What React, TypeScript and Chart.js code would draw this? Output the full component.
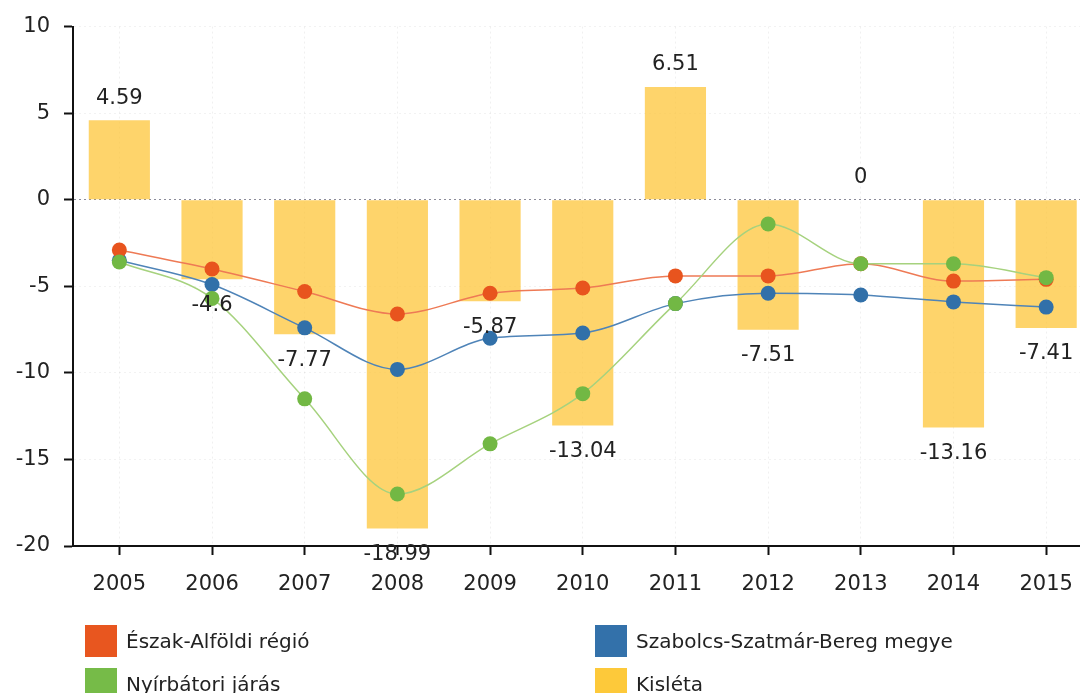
import React, { useEffect, useRef } from "react";
import { Chart, registerables } from "chart.js";

Chart.register(...registerables);

const years = ["2005", "2006", "2007", "2008", "2009", "2010", "2011", "2012", "2013", "2014", "2015"];
const kisleta = [4.59, -4.6, -7.77, -18.99, -5.87, -13.04, 6.51, -7.51, 0, -13.16, -7.41];
const eszakAlfoldi = [-2.9, -4.0, -5.3, -6.6, -5.4, -5.1, -4.4, -4.4, -3.7, -4.7, -4.6];
const szabolcs = [-3.5, -4.9, -7.4, -9.8, -8.0, -7.7, -6.0, -5.4, -5.5, -5.9, -6.2];
const nyirbatori = [-3.6, -5.7, -11.5, -17.0, -14.1, -11.2, -6.0, -1.4, -3.7, -3.7, -4.5];

const legendItems = [
  { label: "Észak-Alföldi régió", color: "#E8561F", x: 85, y: 625 },
  { label: "Szabolcs-Szatmár-Bereg megye", color: "#3371AA", x: 595, y: 625 },
  { label: "Nyírbátori járás", color: "#76BB48", x: 85, y: 668 },
  { label: "Kisléta", color: "#FDC93A", x: 595, y: 668 },
];

const FONT = "'DejaVu Sans', Verdana, sans-serif";

const barLabels = {
  id: "barLabels",
  afterDatasetsDraw(chart: any) {
    const ctx = chart.ctx;
    const meta = chart.getDatasetMeta(3);
    const yScale = chart.scales.y;
    ctx.save();
    ctx.font = `21px ${FONT}`;
    ctx.fillStyle = "#222";
    ctx.textAlign = "center";
    ctx.textBaseline = "middle";
    meta.data.forEach((bar: any, i: number) => {
      const v = kisleta[i];
      const yEnd = yScale.getPixelForValue(v);
      const y = v >= 0 ? yEnd - 22 : yEnd + 26;
      ctx.fillText(String(v), bar.x, y);
    });
    ctx.restore();
  },
};

export default function App() {
  const ref = useRef<HTMLCanvasElement>(null);
  useEffect(() => {
    if (!ref.current) return;
    const chart = new Chart(ref.current, {
      type: "bar",
      data: {
        labels: years,
        datasets: [
          {
            type: "line",
            label: "Nyírbátori járás",
            data: nyirbatori,
            borderColor: "#A6D27E",
            backgroundColor: "#72B844",
            borderWidth: 1.5,
            pointRadius: 7.5,
            pointBorderWidth: 0,
            cubicInterpolationMode: "monotone",
            order: 0,
          } as any,
          {
            type: "line",
            label: "Észak-Alföldi régió",
            data: eszakAlfoldi,
            borderColor: "#EE7A55",
            backgroundColor: "#E8541E",
            borderWidth: 1.5,
            pointRadius: 7.5,
            pointBorderWidth: 0,
            cubicInterpolationMode: "monotone",
            order: 1,
          } as any,
          {
            type: "line",
            label: "Szabolcs-Szatmár-Bereg megye",
            data: szabolcs,
            borderColor: "#4F84B8",
            backgroundColor: "#3170A9",
            borderWidth: 1.5,
            pointRadius: 7.5,
            pointBorderWidth: 0,
            cubicInterpolationMode: "monotone",
            order: 2,
          } as any,
          {
            type: "bar",
            label: "Kisléta",
            data: kisleta,
            backgroundColor: "rgba(253, 196, 50, 0.72)",
            borderWidth: 0,
            categoryPercentage: 1,
            barPercentage: 0.66,
            order: 3,
          } as any,
        ],
      },
      options: {
        responsive: false,
        animation: false,
        layout: { padding: { top: 25, right: 6, left: 0, bottom: 0 } },
        plugins: { legend: { display: false }, tooltip: { enabled: false } },
        scales: {
          x: {
            offset: true,
            grid: {
              offset: false,
              color: "rgba(0,0,0,0.06)",
              tickColor: "#111",
              tickLength: 9,
              tickWidth: 2,
            },
            border: { display: true, color: "#111", width: 2, dash: [2, 3] },
            ticks: { color: "#222", font: { family: FONT, size: 21 }, padding: 17 },
            afterFit: (s: any) => {
              s.height = 147;
            },
          },
          y: {
            min: -20,
            max: 10,
            ticks: { stepSize: 5, color: "#222", font: { family: FONT, size: 21 }, padding: 14 },
            grid: {
              color: (c: any) => (c.tick && c.tick.value === 0 ? "rgba(90,90,110,0.7)" : "rgba(0,0,0,0.05)"),
              tickColor: "#111",
              tickLength: 9,
              tickWidth: 2,
            },
            border: { display: true, color: "#111", width: 2, dash: [2, 3] },
            afterFit: (s: any) => {
              s.width = 73;
            },
          },
        },
      },
      plugins: [barLabels],
    });
    return () => chart.destroy();
  }, []);

  return (
    <div style={{ position: "absolute", left: 0, top: 0, width: 1080, height: 693, overflow: "hidden", background: "#fff" }}>
      <canvas ref={ref} width={1100} height={693} style={{ width: 1100, height: 693, display: "block" }} />
      {legendItems.map((it) => (
        <div key={it.label} style={{ position: "absolute", left: it.x, top: it.y, height: 32, display: "flex", alignItems: "center" }}>
          <div style={{ width: 32, height: 32, background: it.color }} />
          <span style={{ marginLeft: 9, fontFamily: FONT, fontSize: 20, color: "#222", whiteSpace: "nowrap" }}>{it.label}</span>
        </div>
      ))}
    </div>
  );
}
